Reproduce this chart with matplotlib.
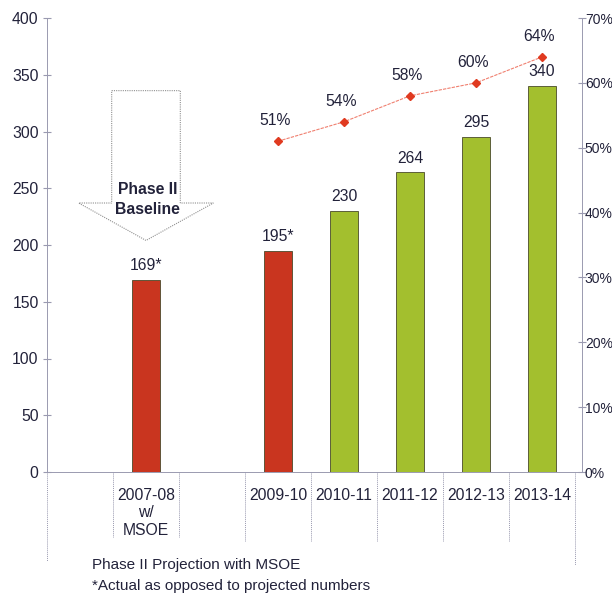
import matplotlib.pyplot as plt
from matplotlib.patches import Polygon

plt.rcParams['font.family'] = ['Liberation Sans', 'DejaVu Sans']

### Data
categories = ['2007-08\nw/\nMSOE', '2009-10', '2010-11', '2011-12', '2012-13', '2013-14']
slots = [1, 3, 4, 5, 6, 7]
values = [169, 195, 230, 264, 295, 340]
value_labels = ['169*', '195*', '230', '264', '295', '340']
bar_colors = ['#c9351f', '#c9351f', '#a3bf2e', '#a3bf2e', '#a3bf2e', '#a3bf2e']
pct_slots = [3, 4, 5, 6, 7]
pct = [51, 54, 58, 60, 64]

txt = '#22223a'
grid_c = '#9a9ab0'
fs = 11.3

fig = plt.figure(figsize=(6.12, 5.99), dpi=100)
ax = fig.add_axes([47 / 612, 127 / 599, 535 / 612, 454 / 599])
ax.set_xlim(-0.5, 7.606)
ax.set_ylim(0, 400)

ax.bar(slots, values, width=0.41, color=bar_colors, edgecolor='#4a4a2a', linewidth=0.6, zorder=3)
for s, v, lab in zip(slots, values, value_labels):
    ax.text(s, v + 6, lab, ha='center', va='bottom', fontsize=fs, color=txt)

ax.set_yticks(range(0, 401, 50))
ax.set_xticks([])
ax.tick_params(axis='y', direction='inout', length=6, colors=grid_c, labelcolor=txt, labelsize=fs, pad=3)
for sp in ['top', 'right']:
    ax.spines[sp].set_visible(False)
ax.spines['left'].set_color(grid_c)
ax.spines['left'].set_linewidth(0.7)
ax.spines['bottom'].set_color(grid_c)
ax.spines['bottom'].set_linewidth(0.7)

# category separators below the axis
for b in [0.5, 1.5, 2.5, 3.5, 4.5, 5.5, 6.5, 7.5]:
    low = -57 if b in (0.5, 1.5) else -61
    if b == 7.5:
        low = -82
    ax.plot([b, b], [0, low], color=grid_c, lw=0.7, ls=(0, (1, 1)), clip_on=False)
ax.plot([-0.5, -0.5], [0, -78], color=grid_c, lw=0.7, ls=(0, (1, 1)), clip_on=False)

for s, c in zip(slots, categories):
    ax.text(s, -14, c, ha='center', va='top', fontsize=fs, color=txt, linespacing=1.2)

# Phase II baseline arrow
arrow = Polygon([(0.48, 336), (1.52, 336), (1.52, 237), (2.02, 237), (1.0, 204),
                 (-0.02, 237), (0.48, 237)], closed=True, facecolor='white',
                edgecolor='#909090', lw=0.8, ls=(0, (1, 1)), zorder=2)
ax.add_patch(arrow)
ax.text(1.02, 240, 'Phase II\nBaseline', ha='center', va='center', fontsize=fs,
        fontweight='bold', color=txt, linespacing=1.45, zorder=4)

# right axis percentages
ax2 = ax.twinx()
ax2.set_ylim(0, 70)
ax2.set_yticks(range(0, 71, 10))
ax2.set_yticklabels([f'{t}%' for t in range(0, 71, 10)])
ax2.tick_params(axis='y', direction='inout', length=6, colors=grid_c, labelcolor=txt, labelsize=10, pad=-1)
for sp in ['top', 'left', 'bottom']:
    ax2.spines[sp].set_visible(False)
ax2.spines['right'].set_color(grid_c)
ax2.spines['right'].set_linewidth(0.7)
ax2.plot(pct_slots, pct, color='#f08070', lw=0.8, ls=(0, (3, 1)), marker='D', ms=4,
         mfc='#e03a20', mec='#e03a20', zorder=5)
for s, p in zip(pct_slots, pct):
    ax2.text(s - 0.05, p + 2.0, f'{p}%', ha='center', va='bottom', fontsize=fs, color=txt)

fig.text(92 / 612, 1 - 565 / 599, 'Phase II Projection with MSOE', ha='left', va='center',
         fontsize=11, color=txt)
fig.text(92 / 612, 1 - 586 / 599, '*Actual as opposed to projected numbers', ha='left', va='center',
         fontsize=11, color=txt)

fig.savefig('out.png', dpi=100)
